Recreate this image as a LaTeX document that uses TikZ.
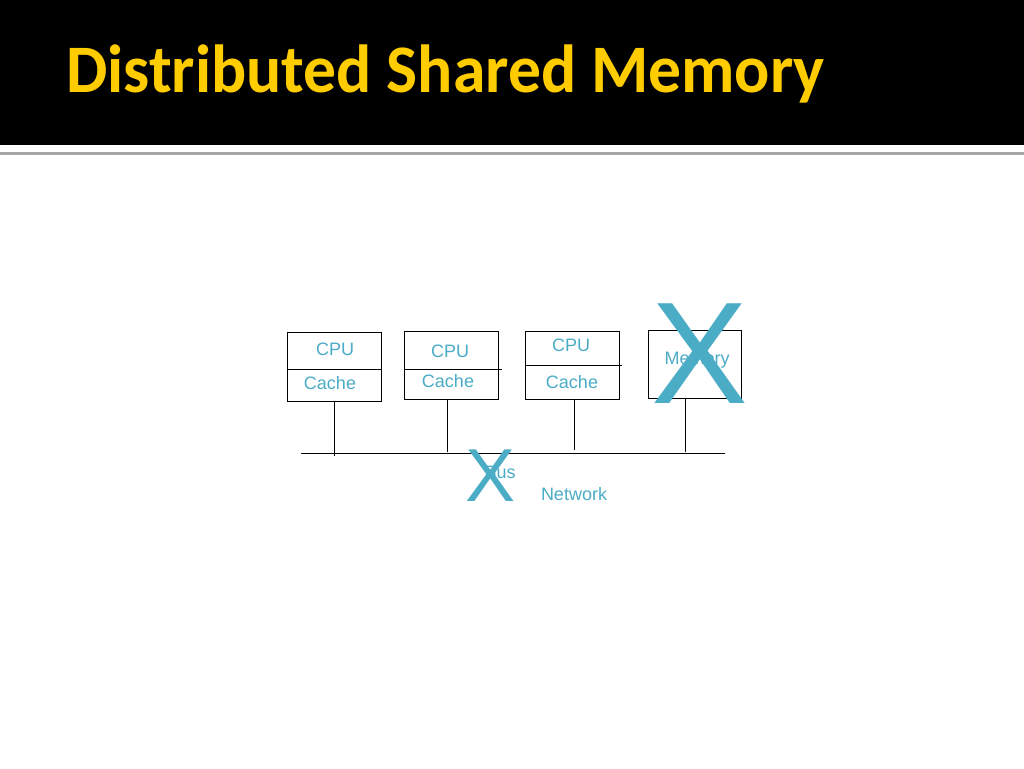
\documentclass[tikz,border=0pt]{standalone}
\usepackage{fontspec}
\setmainfont{Liberation Sans}
\newfontfamily\titlefont{Carlito}
\usepackage{tikz}
\usetikzlibrary{positioning, calc}
\definecolor{slideblue}{RGB}{75,172,198}
\definecolor{titleyellow}{RGB}{255,204,0}
\tikzset{
  unitbox/.style={rectangle,draw=black,line width=1pt,minimum width=94pt,minimum height=69pt,inner sep=0pt},
  lbl/.style={text=slideblue,font=\fontsize{18}{20}\selectfont,inner sep=0pt},
  crossmark/.style={text=slideblue,inner sep=0pt},
  wire/.style={draw=black,line width=1pt}
}
\begin{document}
\begin{tikzpicture}[x=1pt,y=-1pt]
  \useasboundingbox (0,0) rectangle (1024,768);
  \fill[white] (0,0) rectangle (1024,768);
  %% title band
  \fill[black] (0,0) rectangle (1024,145);
  \draw[gray!70,line width=3pt] (0,153) -- (1024,153);
  \node[anchor=base west,inner sep=0pt,text=titleyellow,font=\titlefont\bfseries\fontsize{68}{72}\selectfont] (title) at (66,92) {\scalebox{0.965}[1]{Distributed Shared Memory}};

  %% units
  \node[unitbox] (u1) at (334,366.5) {};
  \node[unitbox,minimum height=68pt] (u2) at (451,365) {};
  \node[unitbox,minimum height=68pt] (u3) at (572,365) {};
  \node[unitbox,minimum width=93pt,minimum height=68pt] (mem) at (694.5,364) {};

  %% dividers
  \draw[wire] (u1.west |- 0,369) -- (u1.east |- 0,369);
  \draw[wire] (u2.west |- 0,369) -- ($(u2.east |- 0,369)+(3,0)$);
  \draw[wire] (u3.west |- 0,365) -- ($(u3.east |- 0,365)+(2,0)$);

  %% labels
  \node[lbl] (cpu1) at (335,349) {CPU};
  \node[lbl] (cache1) at (330,383) {Cache};
  \node[lbl] (cpu2) at (450,351) {CPU};
  \node[lbl] (cache2) at (448,381) {Cache};
  \node[lbl] (cpu3) at (571,345) {CPU};
  \node[lbl] (cache3) at (572,382) {Cache};
  \node[lbl] (memtext) at (697,360) {Memory};

  %% bus
  \coordinate (busL) at (301,453);
  \coordinate (busR) at (725,453);
  \draw[wire] (busL) -- (busR);
  \coordinate (t1) at (334,456);
  \coordinate (t2) at (447,452);
  \coordinate (t3) at (574,450);
  \coordinate (t4) at (685,452);
  \draw[wire] (u1.south -| t1) -- (t1);
  \draw[wire] (u2.south -| t2) -- (t2);
  \draw[wire] (u3.south -| t3) -- (t3);
  \draw[wire] (mem.south -| t4) -- (t4);

  \node[lbl] (bus) at (500,472) {Bus};
  \node[lbl] (net) at (574,494) {Network};

  %% crosses
  \node[crossmark,font=\fontsize{145}{145}\selectfont] (xmem) at (700,354) {X};
  \node[crossmark,font=\fontsize{75}{75}\selectfont] (xbus) at (491,476) {X};
\end{tikzpicture}
\end{document}
